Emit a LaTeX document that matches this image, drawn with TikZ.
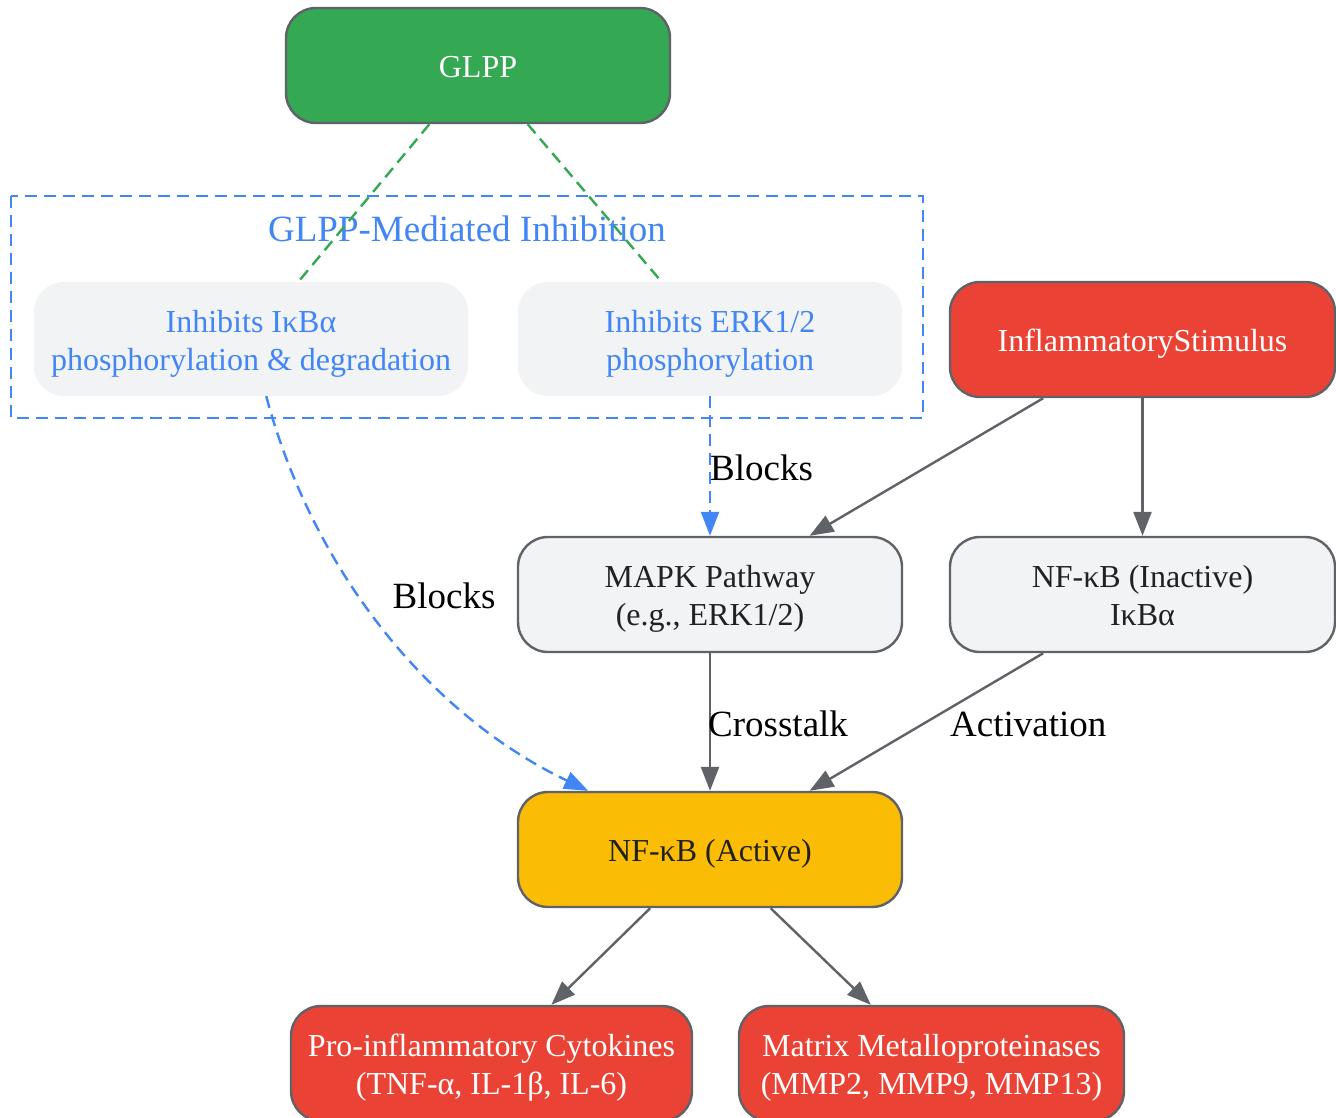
\documentclass[tikz,border=0pt]{standalone}
\usepackage{fontspec}
\setmainfont{Liberation Serif}
\usetikzlibrary{arrows.meta}
\definecolor{ggreen}{HTML}{34A853}
\definecolor{gred}{HTML}{EA4335}
\definecolor{gyellow}{HTML}{FBBC05}
\definecolor{glight}{HTML}{F1F3F4}
\definecolor{gblue}{HTML}{4285F4}
\definecolor{gborder}{HTML}{5F6368}
\definecolor{gtext}{HTML}{202124}
\newcommand\lowtxt[2][-4pt]{\raisebox{#1}[\height][\depth]{\begin{tabular}{@{}c@{}}#2\end{tabular}}}
\tikzset{
  box/.style={rectangle, rounded corners=30pt, draw=gborder, line width=2.4pt,
    minimum width=384pt, minimum height=115pt, inner sep=0pt,
    font=\fontsize{32}{38}\selectfont, text=gtext},
  innerbox/.style={rectangle, rounded corners=30pt, fill=glight, draw=none,
    minimum height=114pt, inner sep=0pt,
    font=\fontsize{32}{38}\selectfont, text=gblue},
  edgelbl/.style={font=\fontsize{37}{44}\selectfont, text=black, inner sep=0pt},
  conn/.style={draw=gborder, line width=2.4pt, -{Triangle[length=24pt,width=18pt]}},
  blueconn/.style={draw=gblue, line width=2.4pt, dash pattern=on 12pt off 7pt,
    -{Triangle[length=24pt,width=18pt]}},
  greenconn/.style={draw=ggreen, line width=2.4pt, dash pattern=on 12pt off 7pt},
}
\begin{document}
\begin{tikzpicture}[x=1pt,y=-1pt]
\useasboundingbox (0,0) rectangle (1336,1118);
\clip (0,0) rectangle (1336,1118);
\fill[white] (0,0) rectangle (1336,1118);

% cluster
\draw[gblue, line width=2.4pt, dash pattern=on 12pt off 7pt] (11,196) rectangle (923,418);
\node[text=gblue, font=\fontsize{37}{44}\selectfont, inner sep=0pt] (ctitle) at (467,229) {GLPP-Mediated Inhibition};

% nodes
\node[box, fill=ggreen, text=white] (glpp) at (478,65.5) {\lowtxt[-4pt]{GLPP}};
\node[innerbox, minimum width=434pt] (ikb) at (251,339) {\lowtxt[-5pt]{Inhibits I\char"03BA B\char"03B1\\phosphorylation \& degradation}};
\node[innerbox, minimum width=384pt] (erk) at (710,339) {\lowtxt[-5pt]{Inhibits ERK1/2\\phosphorylation}};
\node[box, fill=gred, text=white, minimum width=385pt] (infl) at (1142.5,339.5) {\lowtxt{InflammatoryStimulus}};
\node[box, fill=glight] (mapk) at (710,594.5) {\lowtxt{MAPK Pathway\\(e.g., ERK1/2)}};
\node[box, fill=glight, minimum width=385pt] (inact) at (1142.5,594.5) {\lowtxt{NF-\char"03BA B (Inactive)\\I\char"03BA B\char"03B1}};
\node[box, fill=gyellow] (act) at (710,849.5) {\lowtxt{NF-\char"03BA B (Active)}};
\node[box, fill=gred, text=white, minimum width=401pt] (cyto) at (491.5,1063.5) {\lowtxt{Pro-inflammatory Cytokines\\(TNF-\char"03B1, IL-1\char"03B2, IL-6)}};
\node[box, fill=gred, text=white, minimum width=385pt] (mmp) at (931.5,1063.5) {\lowtxt{Matrix Metalloproteinases\\(MMP2, MMP9, MMP13)}};

% connectors
\draw[greenconn] (glpp) -- (ikb);
\draw[greenconn] (glpp) -- (erk);
\draw[blueconn] (ikb) .. controls (310,560) and (420,710) .. (act);
\draw[blueconn] (erk) -- (mapk);
\draw[conn] (infl) -- (mapk);
\draw[conn] (infl) -- (inact);
\draw[conn] (mapk) -- (act);
\draw[conn] (inact) -- (act);
\draw[conn] (act) -- (cyto);
\draw[conn] (act) -- (mmp);

% edge labels
\node[edgelbl] (lb1) at (444,596) {Blocks};
\node[edgelbl, anchor=west] (lb2) at (710,468) {Blocks};
\node[edgelbl, anchor=west] (lb3) at (708,724) {Crosstalk};
\node[edgelbl, anchor=west] (lb4) at (950,724) {Activation};
\end{tikzpicture}
\end{document}
